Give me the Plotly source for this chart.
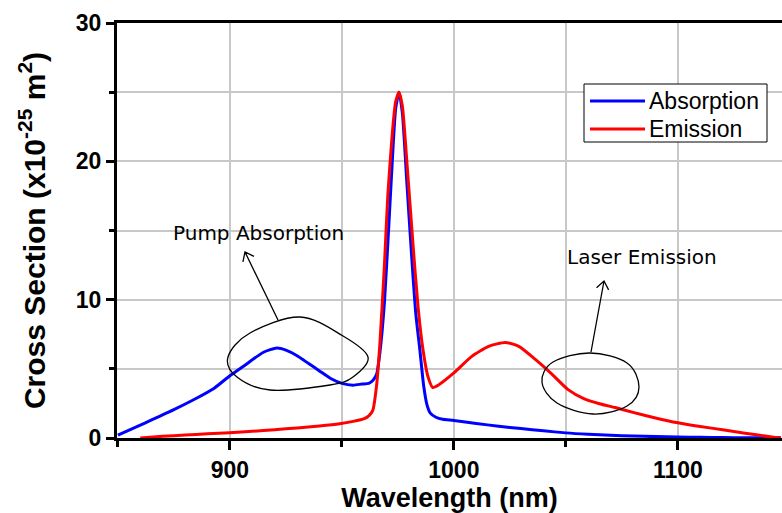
import math
import plotly.graph_objects as go

# ---------------- data ----------------
abs_wl = [850, 858, 866, 875, 884, 893, 900, 907, 915, 921, 925, 930, 935, 940, 945,
          950, 955, 959, 962, 964, 965.5, 967, 969, 971, 972.5, 974, 975.5, 977, 979, 981, 983,
          984.8, 986.5, 988, 989.5, 992, 995, 1000, 1010, 1020, 1030, 1040, 1050, 1060, 1070,
          1080, 1090, 1100, 1110, 1120, 1130, 1146]
abs_val = [0.2, 0.78, 1.38, 2.05, 2.78, 3.6, 4.5, 5.3, 6.2, 6.5, 6.35, 5.95, 5.4,
           4.85, 4.3, 3.95, 3.82, 3.9, 3.95, 4.2, 4.6, 6.2, 9.8, 15.5, 20.0, 23.8, 25.0, 23.5,
           18.5, 13.5, 9.0, 6.4, 3.8, 2.4, 1.8, 1.5, 1.35, 1.27, 1.05, 0.85, 0.68, 0.52, 0.37,
           0.27, 0.2, 0.14, 0.1, 0.07, 0.05, 0.03, 0.02, 0.01]

em_wl = [860, 870, 880, 890, 900, 910, 920, 930, 940, 949, 955, 960, 962, 963.8, 965.5, 967, 969,
         970.5, 972.5, 974, 975.5, 977, 979, 981.7, 984, 986.2, 988.5, 990.6, 993.3, 1000, 1008,
         1015.5, 1023, 1029, 1036.5, 1044, 1051, 1058, 1065, 1072, 1080, 1090, 1100,
         1110, 1120, 1130, 1142, 1146]
em_val = [0.0, 0.12, 0.22, 0.3, 0.38, 0.48, 0.6, 0.73, 0.87, 1.03, 1.2, 1.4, 1.6, 2.0, 3.8, 6.9,
          12.5, 17.5, 22.0, 24.3, 25.0, 24.0, 20.0, 14.1, 9.5, 6.4, 4.4, 3.65, 3.85, 4.7, 5.9,
          6.62, 6.91, 6.62, 5.66, 4.58, 3.5, 2.85, 2.48, 2.2, 1.85, 1.45, 1.1,
          0.83, 0.6, 0.35, 0.07, 0.0]

series_names = ["Absorption", "Emission"]
series_colors = ["#0000ff", "#ff0000"]
x_ticks = [900, 1000, 1100]
y_ticks = [0, 10, 20, 30]
note_texts = ["Pump Absorption", "Laser Emission"]

# ---------------- layout geometry (pixels) ----------------
W, H = 782, 513
ML, MR, MT, MB = 117, 0, 23, 75
PW, PH = W - ML - MR, H - MT - MB


def px2paper(px, py):
    return (px - ML) / PW, (H - MB - py) / PH


def smooth_closed_path(pts):
    """Catmull-Rom closed curve -> SVG cubic path in paper coords."""
    n = len(pts)
    P = [px2paper(*p) for p in pts]
    d = "M{:.5f},{:.5f}".format(*P[0])
    for i in range(n):
        p0, p1, p2, p3 = P[(i - 1) % n], P[i], P[(i + 1) % n], P[(i + 2) % n]
        c1 = (p1[0] + (p2[0] - p0[0]) / 6, p1[1] + (p2[1] - p0[1]) / 6)
        c2 = (p2[0] - (p3[0] - p1[0]) / 6, p2[1] - (p3[1] - p1[1]) / 6)
        d += " C{:.5f},{:.5f} {:.5f},{:.5f} {:.5f},{:.5f}".format(c1[0], c1[1], c2[0], c2[1], p2[0], p2[1])
    return d + " Z"


def arrow_path(tip, tail, head_len=10, head_ang=38):
    """Shaft plus open V head, as an SVG path in paper coords."""
    tx, ty = tip
    sx, sy = tail
    ang = math.atan2(sy - ty, sx - tx)
    pts = []
    for s in (-1, 1):
        a = ang + s * math.radians(head_ang)
        pts.append((tx + head_len * math.cos(a), ty + head_len * math.sin(a)))
    P = lambda p: "{:.5f},{:.5f}".format(*px2paper(*p))
    return "M{} L{} M{} L{} L{}".format(P(tail), P(tip), P(pts[0]), P(tip), P(pts[1]))


pump_loop = [(300, 317), (343, 336), (368, 357), (353, 377), (330, 385), (270, 390),
             (237, 377), (228, 357), (250, 333)]
laser_loop = [(590, 353), (627, 363), (639, 387), (627, 406), (593, 414), (557, 403),
              (542, 382), (553, 362)]

fig = go.Figure()
fig.add_trace(go.Scatter(x=abs_wl, y=abs_val, mode="lines", name=series_names[0],
                         line=dict(color=series_colors[0], width=3, shape="spline", smoothing=0.6)))
fig.add_trace(go.Scatter(x=em_wl, y=em_val, mode="lines", name=series_names[1],
                         line=dict(color=series_colors[1], width=3, shape="spline", smoothing=0.6)))

grid_col = "#c8c8c8"
fig.update_xaxes(
    range=[849.6, 1146.5], tickvals=x_ticks, ticks="outside", ticklen=9, tickwidth=3,
    tickcolor="black", showline=True, linecolor="black", linewidth=3, mirror=True,
    showgrid=True, gridcolor=grid_col, gridwidth=1.5, zeroline=False,
    tickfont=dict(family="Liberation Sans", size=23, color="black", weight="bold"),
    minor=dict(dtick=50, tick0=850, ticks="outside", ticklen=6, tickwidth=3, tickcolor="black",
               showgrid=True, gridcolor=grid_col, gridwidth=1.5),
    title=dict(text="Wavelength (nm)", standoff=9,
               font=dict(family="Liberation Sans", size=27, color="black", weight="bold")),
    automargin=False,
)
fig.update_yaxes(
    range=[0, 30], tickvals=y_ticks, ticks="outside", ticklen=8, tickwidth=3,
    tickcolor="black", showline=True, linecolor="black", linewidth=3, mirror=False,
    showgrid=True, gridcolor=grid_col, gridwidth=1.5, zeroline=False,
    tickfont=dict(family="Liberation Sans", size=23, color="black", weight="bold"),
    minor=dict(dtick=5, tick0=0, ticks="outside", ticklen=5, tickwidth=3, tickcolor="black",
               showgrid=True, gridcolor=grid_col, gridwidth=1.5),
    title=dict(text="Cross Section (x10<sup>-25</sup> m<sup>2</sup>)", standoff=22,
               font=dict(family="Liberation Sans", size=30, color="black", weight="bold")),
    automargin=False,
)

fig.update_layout(
    width=W, height=H, margin=dict(l=ML, r=MR, t=MT, b=MB),
    paper_bgcolor="white", plot_bgcolor="white",
    showlegend=False,
)

# ---- legend box (drawn to match the reference's compact key) ----
bx0, by0 = px2paper(584, 84)
bx1, by1 = px2paper(767, 142)
fig.add_shape(type="rect", xref="paper", yref="paper", x0=bx0, y0=by1, x1=bx1, y1=by0,
              line=dict(color="black", width=1), fillcolor="white", layer="above")
for i, (nm, col) in enumerate(zip(series_names, series_colors)):
    row_y = 101 + 28 * i
    lx0, ly = px2paper(590, row_y)
    lx1, _ = px2paper(645, row_y)
    fig.add_shape(type="line", xref="paper", yref="paper", x0=lx0, x1=lx1, y0=ly, y1=ly,
                  line=dict(color=col, width=3), layer="above")
    tx, ty = px2paper(647, row_y)
    fig.add_annotation(x=tx, y=ty, xref="paper", yref="paper", text=nm, showarrow=False,
                       xanchor="left", yanchor="middle",
                       font=dict(family="Liberation Sans", size=23, color="black"))

# annotation loops
for loop in (pump_loop, laser_loop):
    fig.add_shape(type="path", path=smooth_closed_path(loop), xref="paper", yref="paper",
                  line=dict(color="black", width=1.3), fillcolor="rgba(0,0,0,0)")

# annotation texts
for txt, (cx, cy) in zip(note_texts, [(258, 233), (642, 257)]):
    ax_, ay_ = px2paper(cx, cy)
    fig.add_annotation(x=ax_, y=ay_, xref="paper", yref="paper", text=txt, showarrow=False,
                       xanchor="center", yanchor="middle",
                       font=dict(family="DejaVu Sans", size=20, color="black"))

# arrows (tip, tail) in pixels
for tip, tail in [((245, 252), (278, 320)), ((604, 281), (591, 352))]:
    fig.add_shape(type="path", path=arrow_path(tip, tail), xref="paper", yref="paper",
                  line=dict(color="black", width=1.3))

fig.write_html("out.html")
